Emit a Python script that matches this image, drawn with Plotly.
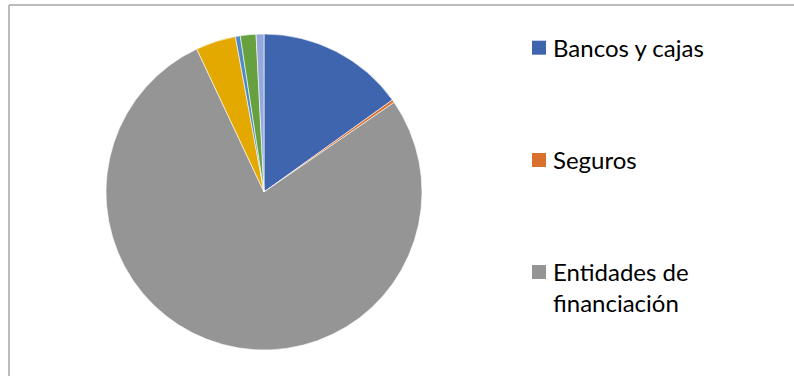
import plotly.graph_objects as go

# Distribution by type of entity (share, %), clockwise from 12 o'clock
categories = [
    "Bancos y cajas",
    "Seguros",
    "Entidades de financiación",
    "Sociedades de valores",
    "Gestoras",
    "Fondos de pensiones",
    "Otros",
]
shares = [15.1, 0.3, 77.6, 4.1, 0.5, 1.6, 0.8]
colors = ["#3F65AF", "#D9702C", "#959595", "#E3A900", "#4E89C4", "#66A03F", "#95A8DB"]

# Only the first three categories are listed in the key
legend_labels = ["Bancos y cajas", "Seguros", "Entidades de<br>financiación"]

W, H = 794, 376


def px(x):
    return x / W


def py(y):
    return 1 - y / H


fig = go.Figure()
fig.add_trace(
    go.Pie(
        labels=categories,
        values=shares,
        sort=False,
        direction="clockwise",
        rotation=0,
        marker=dict(colors=colors, line=dict(color="white", width=0.6)),
        textinfo="none",
        hoverinfo="label+percent",
        showlegend=False,
        domain=dict(x=[px(106), px(422)], y=[py(350), py(34)]),
    )
)

# Hand-drawn key: colour squares and labels
key_font = dict(family="Lato, 'Open Sans', sans-serif", size=24, color="#000000")
key_rows = [47.7, 160.0, 272.0]
shapes = []
annotations = []
for i, label in enumerate(legend_labels):
    yc = key_rows[i]
    shapes.append(
        dict(
            type="rect", xref="paper", yref="paper",
            x0=px(532), x1=px(546), y0=py(yc + 7), y1=py(yc - 7),
            fillcolor=colors[i], line=dict(width=0),
        )
    )
    annotations.append(
        dict(
            text=label, xref="paper", yref="paper",
            x=px(551), y=py(yc - 17), xanchor="left", yanchor="top",
            showarrow=False, align="left", font=key_font,
        )
    )

# Chart-area frame
shapes.append(
    dict(type="line", xref="paper", yref="paper", x0=px(9), x1=px(W + 5),
         y0=py(5), y1=py(5), line=dict(color="#A6A6A6", width=1.5))
)
shapes.append(
    dict(type="line", xref="paper", yref="paper", x0=px(9), x1=px(9),
         y0=py(5), y1=py(H + 5), line=dict(color="#A6A6A6", width=1.5))
)

fig.update_layout(
    width=W,
    height=H,
    margin=dict(l=0, r=0, t=0, b=0),
    paper_bgcolor="white",
    plot_bgcolor="white",
    shapes=shapes,
    annotations=annotations,
)

fig.write_html("out.html")
